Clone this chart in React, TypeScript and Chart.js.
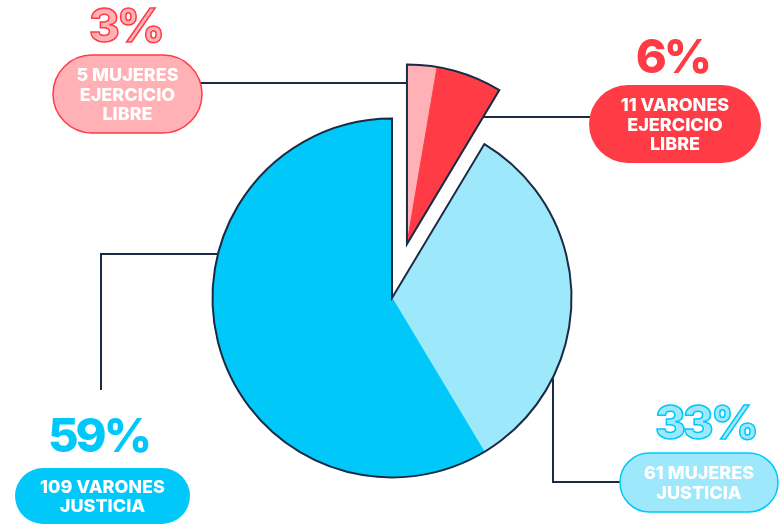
import React, { useEffect, useRef } from "react";
import { Chart, registerables } from "chart.js";

Chart.register(...registerables);

// ---- data ----
const genders = ["MUJERES", "VARONES", "MUJERES", "VARONES"];
const sectors = ["EJERCICIO LIBRE", "EJERCICIO LIBRE", "JUSTICIA", "JUSTICIA"];
const counts = [5, 11, 61, 109];
const sliceColors = ["#ffb1b6", "#ff3b45", "#9de8fb", "#00c9fa"];
// slices drawn together as one exploded wedge / as the main body
const explodedGroup = [0, 1];
const mainGroup = [2, 3];

// ---- styling / layout ----
const DARK = "#1c2b45";
const OFFSET = 56;
const FONT = "Inter, 'Open Sans', sans-serif";

const labelLayout = [
  { pct: [127, 25], pctFill: "#ffb1b6", pctStroke: "#ff3b45", pill: [53, 55, 149, 78], pillFill: "#ffb1b6", pillBorder: "#ff3b45", leader: { kind: "hEdgeStart", y: 83, from: 130 } },
  { pct: [674, 56], pctFill: "#ff3b45", pctStroke: null, pill: [589, 85, 172, 78], pillFill: "#ff3b45", pillBorder: null, leader: { kind: "hEdgeEnd", y: 117, from: 670 } },
  { pct: [707, 422], pctFill: "#9de8fb", pctStroke: "#00c9fa", pill: [620, 453, 158, 59], pillFill: "#9de8fb", pillBorder: "#00c9fa", leader: { kind: "elbowV", y: 482, from: 700, x: 553 } },
  { pct: [100, 435], pctFill: "#00c9fa", pctStroke: null, pill: [15, 468, 175, 56], pillFill: "#00c9fa", pillBorder: null, leader: { kind: "elbowH", y: 254, x: 101, fromY: 390 } },
];

function groupPath(ctx: CanvasRenderingContext2D, arcs: any[], idxs: number[]) {
  const a0 = arcs[idxs[0]];
  const a1 = arcs[idxs[idxs.length - 1]];
  ctx.beginPath();
  ctx.moveTo(a0.x, a0.y);
  ctx.arc(a0.x, a0.y, a0.outerRadius, a0.startAngle, a1.endAngle);
  ctx.closePath();
}

const piePlugin = {
  id: "groupedPie",
  beforeDatasetsDraw(chart: any) {
    const ctx: CanvasRenderingContext2D = chart.ctx;
    const arcs = chart.getDatasetMeta(0).data as any[];
    const e0 = arcs[explodedGroup[0]];
    const e1 = arcs[explodedGroup[explodedGroup.length - 1]];
    const mid = (e0.startAngle + e1.endAngle) / 2;
    const dx = Math.cos(mid) * OFFSET;
    const dy = Math.sin(mid) * OFFSET;
    const cx = e0.x, cy = e0.y, r = e0.outerRadius;
    const ax = cx + dx, ay = cy + dy;

    // leader lines (under the pie)
    ctx.save();
    ctx.strokeStyle = DARK;
    ctx.lineWidth = 2;
    labelLayout.forEach((L) => {
      const ld: any = L.leader;
      ctx.beginPath();
      if (ld.kind === "hEdgeStart" || ld.kind === "hEdgeEnd") {
        const ang = ld.kind === "hEdgeStart" ? e0.startAngle : e1.endAngle;
        const t = (ld.y - ay) / Math.sin(ang);
        const xi = ax + t * Math.cos(ang);
        ctx.moveTo(ld.from, ld.y);
        ctx.lineTo(xi, ld.y);
      } else if (ld.kind === "elbowV") {
        const yi = cy + Math.sqrt(r * r - (ld.x - cx) * (ld.x - cx));
        ctx.moveTo(ld.from, ld.y);
        ctx.lineTo(ld.x, ld.y);
        ctx.lineTo(ld.x, yi);
      } else {
        const xi = cx - Math.sqrt(r * r - (ld.y - cy) * (ld.y - cy));
        ctx.moveTo(ld.x, ld.fromY);
        ctx.lineTo(ld.x, ld.y);
        ctx.lineTo(xi, ld.y);
      }
      ctx.stroke();
    });
    ctx.restore();

    // main body
    mainGroup.forEach((i) => arcs[i].draw(ctx));
    ctx.save();
    groupPath(ctx, arcs, mainGroup);
    ctx.lineWidth = 2;
    ctx.strokeStyle = DARK;
    ctx.lineJoin = "miter";
    ctx.stroke();
    ctx.restore();

    // exploded wedge
    ctx.save();
    ctx.translate(dx, dy);
    explodedGroup.forEach((i) => arcs[i].draw(ctx));
    groupPath(ctx, arcs, explodedGroup);
    ctx.lineWidth = 2;
    ctx.strokeStyle = DARK;
    ctx.lineJoin = "miter";
    ctx.stroke();
    ctx.restore();
    return false;
  },
  afterDraw(chart: any) {
    const ctx: CanvasRenderingContext2D = chart.ctx;
    const total = counts.reduce((a, b) => a + b, 0);
    ctx.save();
    counts.forEach((v, i) => {
      const L = labelLayout[i];
      const [px, py, pw, ph] = L.pill;
      ctx.beginPath();
      (ctx as any).roundRect(px, py, pw, ph, ph / 2);
      ctx.fillStyle = L.pillFill;
      ctx.fill();
      if (L.pillBorder) {
        ctx.lineWidth = 1.5;
        ctx.strokeStyle = L.pillBorder;
        ctx.stroke();
      }
      const lines = [`${v} ${genders[i]}`, ...sectors[i].split(" ")];
      ctx.font = `800 18px ${FONT}`;
      (ctx as any).letterSpacing = "0px";
      ctx.fillStyle = "#ffffff";
      ctx.textAlign = "center";
      ctx.textBaseline = "alphabetic";
      const pcx = px + pw / 2, pcy = py + ph / 2;
      const lh = 19.5;
      lines.forEach((t, k) => {
        const m = ctx.measureText(t);
        const yc = pcy + (k - (lines.length - 1) / 2) * lh;
        ctx.fillText(t, pcx, yc + (m.actualBoundingBoxAscent - m.actualBoundingBoxDescent) / 2);
      });
      // percentage
      const pct = `${Math.round((v / total) * 100)}%`;
      ctx.font = `800 47px ${FONT}`;
      (ctx as any).letterSpacing = "-3px";
      const m = ctx.measureText(pct);
      const by = L.pct[1] + (m.actualBoundingBoxAscent - m.actualBoundingBoxDescent) / 2;
      const bx = L.pct[0] - 1.5;
      ctx.fillStyle = L.pctFill;
      ctx.fillText(pct, bx, by);
      if (L.pctStroke) {
        ctx.lineWidth = 1.5;
        ctx.strokeStyle = L.pctStroke;
        ctx.strokeText(pct, bx, by);
      }
    });
    ctx.restore();
  },
};

export default function App() {
  const ref = useRef<HTMLCanvasElement | null>(null);
  useEffect(() => {
    if (!ref.current) return;
    const chart = new Chart(ref.current, {
      type: "pie",
      data: {
        labels: counts.map((v, i) => `${v} ${genders[i]} ${sectors[i]}`),
        datasets: [
          {
            data: counts,
            backgroundColor: sliceColors,
            borderColor: sliceColors,
            borderWidth: 1,
          },
        ],
      },
      options: {
        animation: false,
        responsive: false,
        layout: { padding: { left: 212, right: 208, top: 118, bottom: 47 } },
        plugins: { legend: { display: false }, tooltip: { enabled: false } },
      },
      plugins: [piePlugin],
    });
    return () => chart.destroy();
  }, []);
  return (
    <div style={{ position: "fixed", left: 0, top: 0, width: 780, height: 525, background: "#fff" }}>
      <canvas ref={ref} width={780} height={525} style={{ display: "block" }} />
    </div>
  );
}
